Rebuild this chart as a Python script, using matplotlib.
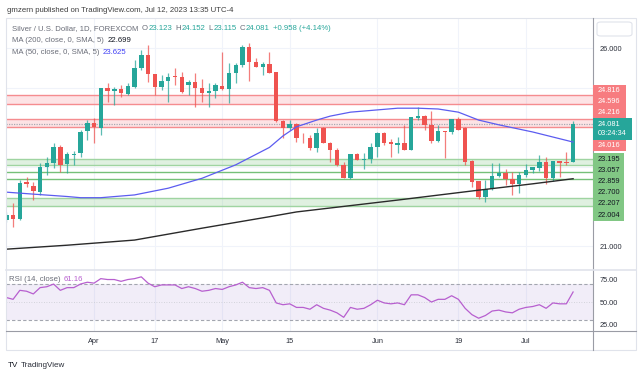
import matplotlib
matplotlib.use('Agg')
import matplotlib.pyplot as plt
from matplotlib.patches import Rectangle, FancyBboxPatch
from matplotlib.lines import Line2D

# ---------------- data ----------------
opens = [21.66, 21.78, 21.68, 22.62, 22.52, 22.36, 23.00, 23.10, 23.50, 23.07,
         23.30, 23.35, 23.90, 24.10, 23.98, 25.00, 24.92, 24.97, 24.85, 25.02,
         25.49, 25.82, 25.35, 25.02, 25.17, 25.29, 25.27, 25.07, 25.14, 24.99,
         24.86, 24.91, 25.04, 24.97, 25.37, 25.57, 26.02, 25.64, 25.52, 25.60,
         25.39, 24.16, 23.98, 24.08, 23.74, 23.73, 23.48, 23.98, 23.60, 23.42,
         23.05, 22.72, 23.32, 23.17, 23.20, 23.50, 23.85, 23.62, 23.56, 23.59,
         23.43, 24.24, 24.28, 24.06, 23.65, 23.91, 23.88, 24.21, 23.98, 23.14,
         22.64, 22.24, 22.44, 22.77, 22.84, 22.69, 22.57, 22.79, 22.92, 22.97,
         23.12, 22.72, 23.15, 23.12, 23.123]
highs = [21.85, 22.08, 22.67, 22.74, 22.62, 23.10, 23.25, 23.60, 23.55, 23.37,
         23.40, 23.93, 24.18, 24.23, 25.00, 25.12, 25.02, 25.06, 25.12, 25.70,
         25.95, 26.07, 25.35, 25.32, 25.37, 25.49, 25.39, 25.19, 25.37, 25.22,
         25.12, 25.12, 25.90, 25.62, 25.62, 26.07, 26.12, 25.75, 25.65, 25.90,
         25.39, 24.18, 24.18, 24.10, 23.85, 23.80, 23.98, 24.00, 23.63, 23.48,
         23.12, 23.32, 23.35, 23.35, 23.60, 23.88, 23.88, 23.70, 23.75, 24.06,
         24.26, 24.51, 24.31, 24.41, 24.06, 23.91, 24.21, 24.26, 24.00, 23.17,
         22.64, 22.67, 23.10, 23.10, 22.94, 22.87, 22.87, 23.07, 23.00, 23.30,
         23.25, 23.15, 23.15, 23.37, 24.152]
lows = [21.60, 21.48, 21.66, 22.49, 22.16, 22.29, 22.80, 22.97, 22.87, 22.85,
        23.05, 23.25, 23.68, 23.60, 23.80, 24.64, 24.56, 24.76, 24.81, 25.00,
        25.44, 25.14, 24.82, 24.94, 24.64, 25.07, 24.86, 24.81, 24.51, 24.64,
        24.51, 24.74, 24.94, 24.60, 25.12, 25.52, 25.17, 25.52, 25.32, 25.37,
        24.13, 23.73, 23.93, 23.63, 23.60, 23.43, 23.38, 23.60, 23.12, 23.02,
        22.72, 22.69, 23.17, 22.95, 23.10, 23.25, 23.55, 23.25, 23.35, 23.43,
        23.43, 24.18, 23.93, 23.60, 23.63, 23.22, 23.83, 23.93, 23.05, 22.49,
        22.19, 22.11, 22.41, 22.74, 22.54, 22.29, 22.34, 22.74, 22.84, 22.89,
        22.57, 22.64, 22.74, 23.05, 23.115]
closes = [21.78, 21.68, 22.59, 22.57, 22.39, 23.00, 23.10, 23.50, 23.05, 23.32,
          23.33, 23.88, 24.10, 24.00, 24.99, 24.92, 24.96, 24.86, 25.04, 25.49,
          25.82, 25.35, 25.02, 25.17, 25.27, 25.26, 24.89, 25.14, 24.99, 24.86,
          24.91, 25.07, 24.96, 25.37, 25.57, 26.02, 25.64, 25.52, 25.60, 25.37,
          24.16, 23.98, 24.08, 23.73, 23.72, 23.48, 23.85, 23.60, 23.42, 23.05,
          22.72, 23.32, 23.17, 23.20, 23.50, 23.85, 23.60, 23.57, 23.59, 23.43,
          24.26, 24.28, 24.06, 23.65, 23.91, 23.88, 24.21, 23.93, 23.12, 22.62,
          22.24, 22.44, 22.77, 22.84, 22.69, 22.57, 22.79, 22.92, 23.00, 23.12,
          22.72, 23.15, 23.10, 23.10, 24.081]

ma50_idx = [0, 4, 9, 11, 14, 19, 24, 29, 34, 39, 41, 43, 46, 48, 51, 58, 61, 64, 67, 70, 73, 78, 84]
ma50_val = [22.36, 22.31, 22.25, 22.22, 22.22, 22.29, 22.46, 22.71, 23.05, 23.49, 23.78, 24.01,
            24.18, 24.28, 24.38, 24.48, 24.48, 24.46, 24.38, 24.18, 24.06, 23.88, 23.625]
ma200_idx = [0, 9, 19, 29, 39, 43, 58, 70, 78, 84]
ma200_val = [20.92, 21.02, 21.15, 21.45, 21.74, 21.86, 22.16, 22.41, 22.57, 22.699]

rsi_vals = [55, 53, 63, 62, 59, 66, 67, 70, 63, 66, 66, 70, 72, 71, 76, 75, 75, 73, 75, 76,
            78, 71, 67, 69, 69, 69, 65, 67, 65, 62, 63, 65, 64, 67, 69, 72, 66, 65, 66, 63,
            49, 47, 48, 44, 44, 42, 47, 43, 41, 38, 33, 44, 42, 43, 47, 52, 49, 48, 49, 47,
            58, 58, 55, 50, 53, 53, 57, 53, 43, 36, 32, 35, 40, 41, 39, 38, 42, 44, 45, 47,
            43, 49, 48, 48, 61.16]

red_bands = [(24.596, 24.816), (24.016, 24.216)]
green_bands = [(23.057, 23.195), (22.004, 22.207)]
green_lines = [22.700, 22.859]
red_levels = [24.816, 24.596, 24.216, 24.016]
green_levels = [23.195, 23.057, 22.859, 22.700, 22.207, 22.004]
last_price = 24.081
countdown = "03:24:34"

date_pos = [13, 22, 32, 42, 55, 67, 77]
date_labels = ["Apr", "17", "May", "15", "Jun", "19", "Jul"]
price_ticks = [21, 22, 23, 24, 25, 26]
price_tick_shown = [21, 26]
rsi_ticks = [25, 50, 75]

# ---------------- style ----------------
W, H = 643, 373
plt.rcParams['font.family'] = ['Liberation Sans', 'DejaVu Sans']
TEAL = '#26a69a'
RED = '#ef5350'
GRAY = '#6a6d78'
TXT = '#2a2e39'
FS = 5.6

fig = plt.figure(figsize=(W / 100, H / 100), dpi=100)
fig.patch.set_facecolor('white')


def fx(px):
    return px / W


def fy(py):
    return 1 - py / H


L, R, T, SEP, BOT = 6, 593, 18, 270, 331
ax = fig.add_axes([fx(L), fy(SEP), fx(R) - fx(L), fy(T) - fy(SEP)])
axr = fig.add_axes([fx(L), fy(BOT), fx(R) - fx(L), fy(SEP) - fy(BOT)], sharex=ax)

ax.set_xlim(-0.05, 86.95)
ax.set_ylim(20.394, 26.758)
axr.set_ylim(17.8, 85.6)

for a in (ax, axr):
    for s in a.spines.values():
        s.set_visible(False)
    a.set_facecolor('none')

# grid
for p in price_ticks:
    ax.axhline(p, color='#f0f3fa', lw=0.8, zorder=0)
for d in date_pos:
    ax.axvline(d, color='#f0f3fa', lw=0.8, zorder=0)
    axr.axvline(d, color='#f0f3fa', lw=0.8, zorder=0)

# level bands
for lo, hi in red_bands:
    ax.axhspan(lo, hi, color='#f7525f', alpha=0.16, lw=0, zorder=1)
    ax.axhline(lo, color='#f58c8f', lw=1.0, zorder=1)
    ax.axhline(hi, color='#f58c8f', lw=1.0, zorder=1)
for lo, hi in green_bands:
    ax.axhspan(lo, hi, color='#81c784', alpha=0.25, lw=0, zorder=1)
    ax.axhline(lo, color='#9fd4a1', lw=1.0, zorder=1)
    ax.axhline(hi, color='#9fd4a1', lw=1.0, zorder=1)
for v in green_lines:
    ax.axhline(v, color='#76c079', lw=1.0, zorder=1)
ax.axhline(last_price, color='#a8aab2', lw=0.9, ls=(0, (1, 1)), zorder=1)

# candles
for i, (o, h, l, c) in enumerate(zip(opens, highs, lows, closes)):
    col = TEAL if c >= o else RED
    ax.vlines(i, l, h, color=col, lw=0.9, alpha=0.75, zorder=3)
    ax.bar(i, max(abs(c - o), 0.02), bottom=min(o, c), width=0.66, color=col, lw=0, zorder=4)

# moving averages
ax.plot(ma50_idx, ma50_val, color='#5c5cf0', lw=0.9, zorder=5)
ax.plot(ma200_idx, ma200_val, color='#2a2a2a', lw=1.0, zorder=5)

# RSI
xs = list(range(len(rsi_vals)))
axr.axhspan(30, 70, color='#7e57c2', alpha=0.1, lw=0)
axr.axhline(70, color='#a3a6af', lw=0.8, ls=(0, (3, 2)))
axr.axhline(30, color='#a3a6af', lw=0.8, ls=(0, (3, 2)))
axr.axhline(50, color='#c9cbd1', lw=0.6, ls=(0, (1, 2)))
axr.plot(xs, rsi_vals, color='#b75fcf', lw=0.9)

# ticks
ax.yaxis.tick_right()
ax.set_yticks(price_tick_shown)
ax.set_yticklabels(['%.3f' % p for p in price_tick_shown])
ax.tick_params(axis='y', length=0, pad=5, labelsize=5.3, labelcolor=TXT)
ax.tick_params(axis='x', length=0, labelbottom=False)
axr.yaxis.tick_right()
axr.set_yticks(rsi_ticks)
axr.set_yticklabels(['%.2f' % v for v in rsi_ticks])
axr.tick_params(axis='y', length=0, pad=5, labelsize=5.3, labelcolor=TXT)
axr.set_xticks(date_pos)
axr.set_xticklabels(date_labels)
axr.tick_params(axis='x', length=0, pad=5, labelsize=5.3, labelcolor=TXT)

# frame and separators
fig.add_artist(Rectangle((fx(L), fy(350)), fx(636) - fx(L), fy(T) - fy(350), transform=fig.transFigure,
                         fill=False, ec='#e0e3eb', lw=0.8))
fig.add_artist(Line2D([fx(R), fx(R)], [fy(T), fy(350)], transform=fig.transFigure, color='#9a9ca5', lw=0.8))
fig.add_artist(Line2D([fx(L), fx(636)], [fy(SEP), fy(SEP)], transform=fig.transFigure, color='#e0e3eb', lw=1.2))
fig.add_artist(Line2D([fx(L), fx(636)], [fy(BOT), fy(BOT)], transform=fig.transFigure, color='#9a9ca5', lw=0.8))
fig.add_artist(FancyBboxPatch((fx(597), fy(36)), fx(632) - fx(597), fy(22) - fy(36),
                              boxstyle='round,pad=0,rounding_size=0.006', transform=fig.transFigure,
                              fill=False, ec='#e0e3eb', lw=0.8))

# price-axis labels (stacked like TradingView)
fig.canvas.draw()


def ypx(price):
    return H - ax.transData.transform((0, price))[1]


LH = 11.2
anchor = ypx(last_price)
a_top = anchor - LH / 2
a_bot = a_top + 2 * LH - 1
placed = []
prev = a_top
for p in sorted([v for v in red_levels + green_levels if v > last_price]):
    c = min(ypx(p), prev - LH / 2)
    prev = c - LH / 2
    placed.append((p, c))
prev = a_bot
for p in sorted([v for v in red_levels + green_levels if v < last_price], reverse=True):
    c = max(ypx(p), prev + LH / 2)
    prev = c + LH / 2
    placed.append((p, c))

for p, c in placed:
    is_red = p in red_levels
    col = '#f77c80' if is_red else '#81c784'
    w = 33 if is_red else 31
    fig.add_artist(Rectangle((fx(R), fy(c + LH / 2)), fx(R + w) - fx(R), fy(c - LH / 2) - fy(c + LH / 2),
                             transform=fig.transFigure, color=col, lw=0, zorder=2))
    fig.text(fx(598), fy(c), '%.3f' % p, color='white' if is_red else '#131722', fontsize=5.3,
             va='center', ha='left', zorder=3)
fig.add_artist(Rectangle((fx(R), fy(a_bot)), fx(R + 39) - fx(R), fy(a_top) - fy(a_bot),
                         transform=fig.transFigure, color=TEAL, lw=0, zorder=2))
fig.text(fx(598), fy(anchor), '%.3f' % last_price, color='white', fontsize=5.3, va='center', ha='left', zorder=3)
fig.text(fx(598), fy(anchor + 9.5), countdown, color='white', fontsize=5.3, va='center', ha='left', zorder=3)

# multi-coloured legend text
renderer = fig.canvas.get_renderer()


def chain(x0, yb, parts, size=FS):
    xcur = x0
    for s, col, gap in parts:
        t = fig.text(fx(xcur), fy(yb), s, color=col, fontsize=size, va='baseline', ha='left')
        xcur = t.get_window_extent(renderer).x1 + gap


fig.text(fx(7), fy(12), 'gmzern published on TradingView.com, Jul 12, 2023 13:35 UTC-4',
         color='#3d3d3d', fontsize=FS, va='baseline', ha='left')
chain(12, 30, [('Silver / U.S. Dollar, 1D, FOREXCOM', GRAY, 3.5),
               ('O', GRAY, 0.3), ('%.3f' % opens[-1], TEAL, 3.5),
               ('H', GRAY, 0.3), ('%.3f' % highs[-1], TEAL, 3.5),
               ('L', GRAY, 0.3), ('%.3f' % lows[-1], TEAL, 3.5),
               ('C', GRAY, 0.3), ('%.3f' % closes[-1], TEAL, 3.5),
               ('+0.958 (+4.14%)', TEAL, 0)])
chain(12, 42.5, [('MA (200, close, 0, SMA, 5)', GRAY, 3.5), ('%.3f' % ma200_val[-1], '#131722', 0)])
chain(12, 54.5, [('MA (50, close, 0, SMA, 5)', GRAY, 3.5), ('%.3f' % ma50_val[-1], '#3f3ff5', 0)])
chain(9, 281, [('RSI (14, close)', GRAY, 3.5), ('%.2f' % rsi_vals[-1], '#b75fcf', 0)])

chain(8, 367, [('TV', '#131722', 2.0), ('TradingView', '#2a2e39', 0)], size=5.8)

fig.savefig('out.png', dpi=100, facecolor='white')
